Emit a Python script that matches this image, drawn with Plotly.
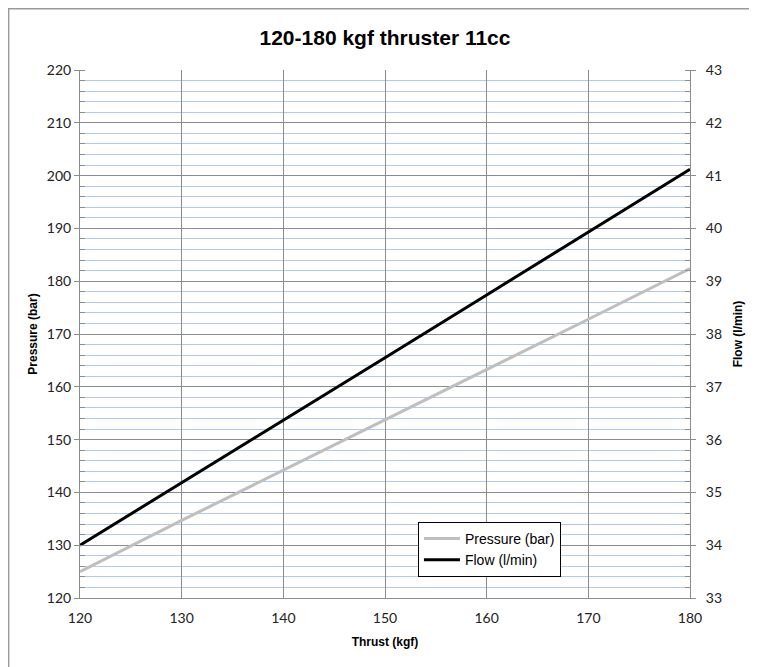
import plotly.graph_objects as go

# data
thrust = [120, 130, 140, 150, 160, 170, 180]
pressure = [125.0, 134.7, 144.2, 153.7, 163.2, 172.8, 182.4]
flow = [34.0, 35.18, 36.37, 37.55, 38.74, 39.93, 41.12]

narrow = "Liberation Sans, Arial, sans-serif"
tickfont = dict(family="Lato, Open Sans, sans-serif", size=14, color="#222222")

fig = go.Figure()

fig.add_trace(go.Scatter(
    x=thrust, y=pressure, name="Pressure (bar)", mode="lines",
    line=dict(color="#bfbfbf", width=3),
))
fig.add_trace(go.Scatter(
    x=thrust, y=flow, name="Flow (l/min)", mode="lines", yaxis="y2",
    line=dict(color="#000000", width=3),
))

fig.update_layout(
    width=757, height=667,
    margin=dict(l=72, r=75, t=62, b=77),
    paper_bgcolor="#d3e1ee",
    plot_bgcolor="white",
    showlegend=True,
    title=dict(
        text="<b>120-180 kgf thruster 11cc</b>",
        x=0.5, xref="paper", xanchor="center",
        y=0.955, yref="container", yanchor="middle",
        font=dict(family=narrow, size=21, color="#000000"),
    ),
    xaxis=dict(
        range=[120, 180], dtick=10, tick0=120,
        showgrid=True, gridcolor="#8c8c8c", gridwidth=1,
        showline=True, linecolor="#8c8c8c", linewidth=1, mirror=False,
        ticks="", zeroline=False, ticklabelstandoff=7,
        tickfont=tickfont,
        title=dict(text="<b>Thrust (kgf)</b>", font=dict(family=narrow, size=12, color="#000"), standoff=12),
    ),
    yaxis=dict(
        range=[120, 220], dtick=10, tick0=120,
        showgrid=True, gridcolor="#8c8c8c", gridwidth=1,
        showline=True, linecolor="#8c8c8c", linewidth=1,
        ticks="outside", ticklen=5, tickcolor="#8c8c8c",
        minor=dict(dtick=2, showgrid=True, gridcolor="#b0cbeb", gridwidth=1.3,
                   ticks="inside", ticklen=5, tickcolor="#8c8c8c"),
        zeroline=False,
        tickfont=tickfont,
        title=dict(text="<b>Pressure (bar)</b>", font=dict(family=narrow, size=12, color="#000"), standoff=6),
    ),
    yaxis2=dict(
        range=[33, 43], dtick=1, tick0=33,
        overlaying="y", side="right",
        showgrid=False,
        showline=True, linecolor="#8c8c8c", linewidth=1,
        ticks="outside", ticklen=5, tickcolor="#8c8c8c",
        minor=dict(dtick=0.2, showgrid=False, ticks="inside", ticklen=5, tickcolor="#8c8c8c"),
        zeroline=False, ticklabelstandoff=7,
        tickfont=tickfont,
        title=dict(text="<b>Flow (l/min)</b>", font=dict(family=narrow, size=12, color="#000"), standoff=12),
    ),
    legend=dict(
        x=0.554, y=0.144, xanchor="left", yanchor="top",
        bgcolor="white", bordercolor="#000000", borderwidth=1,
        font=dict(family=narrow, size=14, color="#000"),
        itemwidth=36, tracegroupgap=4,
    ),
    shapes=[dict(
        type="rect", xref="paper", yref="paper", layer="below",
        x0=-0.117, x1=1.3, y0=-0.2, y1=1.116,
        fillcolor="white", line=dict(color="#9a9a9a", width=1.5),
    )],
)

fig.write_html("out.html")
